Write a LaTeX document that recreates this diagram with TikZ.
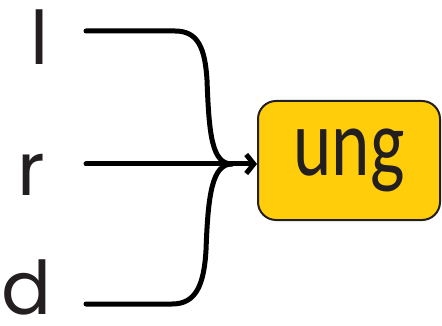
\documentclass[tikz,border=0pt]{standalone}
\usepackage{fontspec}
\setmainfont{Carlito}
\newfontfamily\labelfont{Poppins}
\newfontfamily\boxfont{Carlito}[FakeStretch=0.76]
\usetikzlibrary{arrows.meta, positioning}
\definecolor{boxyellow}{HTML}{FFCD0A}
\definecolor{inkgray}{HTML}{231F20}

\begin{document}
\begin{tikzpicture}[x=0.5pt, y=-0.5pt, >={Straight Barb[length=3.8pt, width=9.5pt]},
    lbl/.style={inner sep=0pt, anchor=base, font=\labelfont\fontsize{37}{40}\selectfont, text=inkgray},
    wire/.style={line width=2.5pt, line cap=round, line join=round},
    target/.style={draw=inkgray, line width=1pt, fill=boxyellow, rounded corners=9pt,
      minimum width=91pt, minimum height=59.5pt, inner sep=0pt, text=inkgray,
      font=\boxfont\fontsize{48}{50}\selectfont}]
        \useasboundingbox (0,0) rectangle (442,325);
        \node[lbl] (l) at (40,65)  {l};
        \node[lbl] (r) at (31,195) {r};
        \node[lbl] (d) at (27,314) {d};
        \node[target] (ung) at (349,160.5) {ung};
        \coordinate (lstart) at (86,31);
        \coordinate (rstart) at (86,164);
        \coordinate (dstart) at (86,304);
        \coordinate (merge) at (232,164);
        \draw[wire] (lstart) -- (175,31) .. controls (198,31) and (205,48) .. (207,80)
          .. controls (209,135) and (212,164) .. (merge);
        \draw[wire] (dstart) -- (172,304) .. controls (196,304) and (204,285) .. (206,250)
          .. controls (208,195) and (212,164) .. (merge);
        \draw[wire, ->] (rstart) -- (rstart -| ung.west);
      \end{tikzpicture}
\end{document}
